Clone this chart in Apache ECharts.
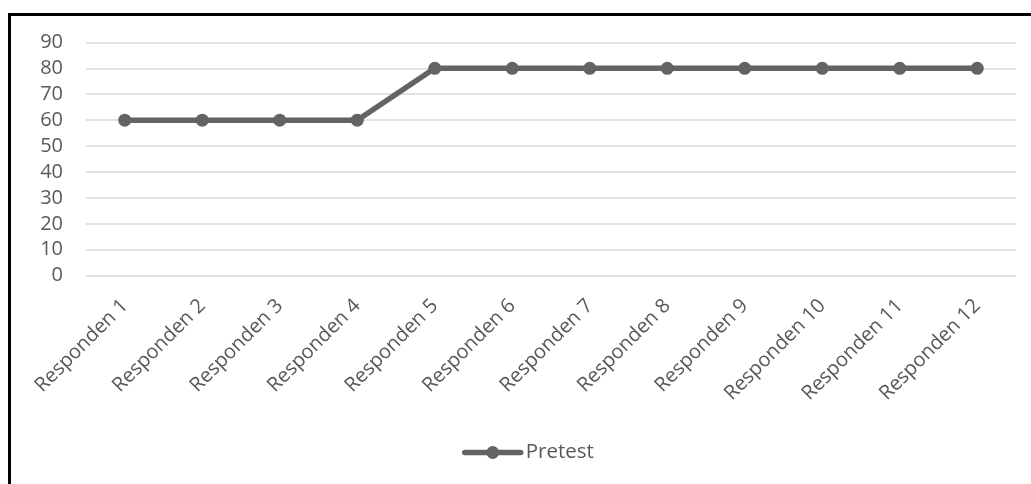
<!DOCTYPE html>
<html>
<head>
<meta charset="utf-8">
<script src="https://cdn.jsdelivr.net/npm/echarts@6/dist/echarts.min.js"></script>
<style>
  html, body { margin: 0; padding: 0; background: #ffffff; }
  #frame { position: absolute; left: 8px; top: 13px; width: 1023px; height: 471px; border-left: 3px solid #000; border-top: 3px solid #000; box-sizing: border-box; }
  #chart { position: absolute; left: 0; top: 0; width: 1031px; height: 484px; }
</style>
</head>
<body>
<div id="frame"></div>
<div id="chart"></div>
<script>
const categories = ["Responden 1", "Responden 2", "Responden 3", "Responden 4", "Responden 5", "Responden 6", "Responden 7", "Responden 8", "Responden 9", "Responden 10", "Responden 11", "Responden 12"];
const seriesName = "Pretest";
const pretest = [60, 60, 60, 60, 80, 80, 80, 80, 80, 80, 80, 80];
const yMin = 0, yMax = 90, yInterval = 10;

const chart = echarts.init(document.getElementById('chart'), null, { renderer: 'canvas' });
const textColor = '#595959';
const font = '"Open Sans", "Noto Sans", sans-serif';
chart.setOption({
  animation: false,
  backgroundColor: 'transparent',
  grid: { left: 86, right: 15, top: 42.4, bottom: 208.3, containLabel: false },
  xAxis: {
    type: 'category',
    data: categories,
    boundaryGap: true,
    axisLine: { show: false },
    axisTick: { show: false },
    axisLabel: { rotate: 45, interval: 0, margin: 27, color: textColor, fontSize: 20, fontFamily: font }
  },
  yAxis: {
    type: 'value',
    min: yMin, max: yMax, interval: yInterval,
    axisLine: { show: false },
    axisTick: { show: false },
    axisLabel: { margin: 23, color: textColor, fontSize: 20, fontFamily: font },
    splitLine: { lineStyle: { color: '#d9d9d9', width: 1.5 } }
  },
  legend: {
    left: 457, top: 437,
    itemWidth: 56, itemHeight: 16, itemGap: 4,
    lineStyle: { width: 5.5, cap: 'round', color: '#636363' },
    textStyle: { color: textColor, fontSize: 20.5, fontFamily: font },
    data: [seriesName]
  },
  series: [{
    name: seriesName,
    type: 'line',
    data: pretest,
    symbol: 'circle',
    symbolSize: 13,
    lineStyle: { color: '#636363', width: 5.5 },
    itemStyle: { color: '#636363' }
  }]
});
</script>
</body>
</html>
